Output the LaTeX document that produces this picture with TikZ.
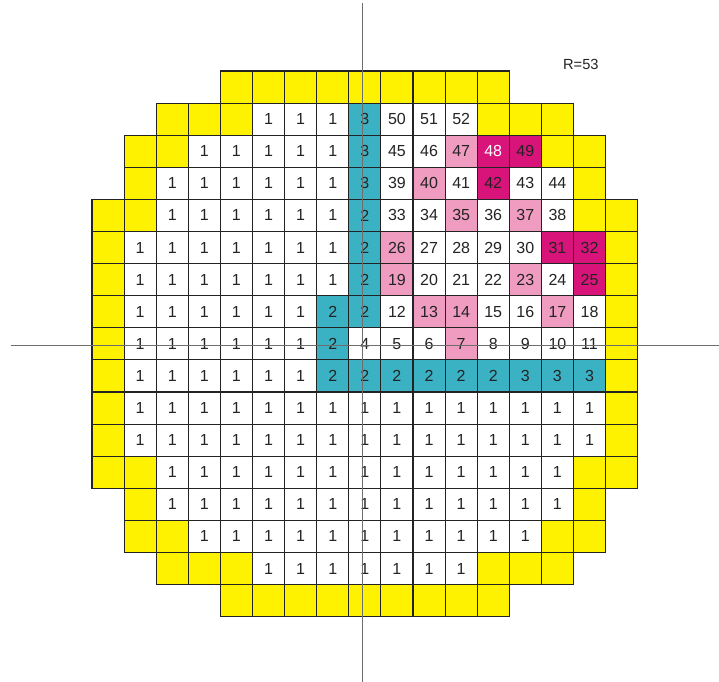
\documentclass[tikz,border=0pt]{standalone}
\usepackage{fontspec}
\setmainfont{Liberation Sans}
\definecolor{yel}{RGB}{255,242,0}
\definecolor{tealc}{RGB}{58,178,196}
\definecolor{pinkc}{RGB}{240,156,192}
\definecolor{magc}{RGB}{216,20,122}
\definecolor{gridc}{RGB}{35,35,35}
\definecolor{txtc}{RGB}{35,35,35}
\definecolor{axisc}{RGB}{110,110,110}
\newcommand\mycell[4]{\node[#3] (n#2-#1) at (#1+0.5,#2+0.5) {#4};}
\begin{document}
\begin{tikzpicture}[x=24.075pt,y=-24.075pt,
  cellbase/.style={draw=gridc, line width=0.8pt, minimum width=24.075pt, minimum height=24.075pt, inner sep=0pt, font=\fontsize{12}{12}\selectfont, text=txtc},
  ycell/.style={cellbase, fill=yel},
  wcell/.style={cellbase, fill=white},
  tcell/.style={cellbase, fill=tealc},
  pcell/.style={cellbase, fill=pinkc},
  mcell/.style={cellbase, fill=magc},
  mwcell/.style={cellbase, fill=magc, text=white},
  axis/.style={draw=axisc, line width=0.7pt}]
\useasboundingbox (-2.866,-2.2118) rectangle (19.533,19.034);
% row 0
\foreach \c in {4,...,12} {\mycell{\c}{0}{ycell}{}}
% row 1
\foreach \c in {2,3,4,12,13,14} {\mycell{\c}{1}{ycell}{}}
\foreach \c in {5,6,7} {\mycell{\c}{1}{wcell}{1}}
\mycell{8}{1}{tcell}{3}
\mycell{9}{1}{wcell}{50}
\mycell{10}{1}{wcell}{51}
\mycell{11}{1}{wcell}{52}
% row 2
\foreach \c in {1,2,14,15} {\mycell{\c}{2}{ycell}{}}
\foreach \c in {3,...,7} {\mycell{\c}{2}{wcell}{1}}
\mycell{8}{2}{tcell}{3}
\mycell{9}{2}{wcell}{45}
\mycell{10}{2}{wcell}{46}
\mycell{11}{2}{pcell}{47}
\mycell{12}{2}{mwcell}{48}
\mycell{13}{2}{mcell}{49}
% row 3
\foreach \c in {1,15} {\mycell{\c}{3}{ycell}{}}
\foreach \c in {2,...,7} {\mycell{\c}{3}{wcell}{1}}
\mycell{8}{3}{tcell}{3}
\mycell{9}{3}{wcell}{39}
\mycell{10}{3}{pcell}{40}
\mycell{11}{3}{wcell}{41}
\mycell{12}{3}{mcell}{42}
\mycell{13}{3}{wcell}{43}
\mycell{14}{3}{wcell}{44}
% row 4
\foreach \c in {0,1,15,16} {\mycell{\c}{4}{ycell}{}}
\foreach \c in {2,...,7} {\mycell{\c}{4}{wcell}{1}}
\mycell{8}{4}{tcell}{2}
\mycell{9}{4}{wcell}{33}
\mycell{10}{4}{wcell}{34}
\mycell{11}{4}{pcell}{35}
\mycell{12}{4}{wcell}{36}
\mycell{13}{4}{pcell}{37}
\mycell{14}{4}{wcell}{38}
% row 5
\foreach \c in {0,16} {\mycell{\c}{5}{ycell}{}}
\foreach \c in {1,...,7} {\mycell{\c}{5}{wcell}{1}}
\mycell{8}{5}{tcell}{2}
\mycell{9}{5}{pcell}{26}
\mycell{10}{5}{wcell}{27}
\mycell{11}{5}{wcell}{28}
\mycell{12}{5}{wcell}{29}
\mycell{13}{5}{wcell}{30}
\mycell{14}{5}{mcell}{31}
\mycell{15}{5}{mcell}{32}
% row 6
\foreach \c in {0,16} {\mycell{\c}{6}{ycell}{}}
\foreach \c in {1,...,7} {\mycell{\c}{6}{wcell}{1}}
\mycell{8}{6}{tcell}{2}
\mycell{9}{6}{pcell}{19}
\mycell{10}{6}{wcell}{20}
\mycell{11}{6}{wcell}{21}
\mycell{12}{6}{wcell}{22}
\mycell{13}{6}{pcell}{23}
\mycell{14}{6}{wcell}{24}
\mycell{15}{6}{mcell}{25}
% row 7
\foreach \c in {0,16} {\mycell{\c}{7}{ycell}{}}
\foreach \c in {1,...,6} {\mycell{\c}{7}{wcell}{1}}
\mycell{7}{7}{tcell}{2}
\mycell{8}{7}{tcell}{2}
\mycell{9}{7}{wcell}{12}
\mycell{10}{7}{pcell}{13}
\mycell{11}{7}{pcell}{14}
\mycell{12}{7}{wcell}{15}
\mycell{13}{7}{wcell}{16}
\mycell{14}{7}{pcell}{17}
\mycell{15}{7}{wcell}{18}
% row 8
\foreach \c in {0,16} {\mycell{\c}{8}{ycell}{}}
\foreach \c in {1,...,6} {\mycell{\c}{8}{wcell}{1}}
\mycell{7}{8}{tcell}{2}
\mycell{8}{8}{wcell}{4}
\mycell{9}{8}{wcell}{5}
\mycell{10}{8}{wcell}{6}
\mycell{11}{8}{pcell}{7}
\mycell{12}{8}{wcell}{8}
\mycell{13}{8}{wcell}{9}
\mycell{14}{8}{wcell}{10}
\mycell{15}{8}{wcell}{11}
% row 9
\foreach \c in {0,16} {\mycell{\c}{9}{ycell}{}}
\foreach \c in {1,...,6} {\mycell{\c}{9}{wcell}{1}}
\foreach \c in {7,...,12} {\mycell{\c}{9}{tcell}{2}}
\foreach \c in {13,14,15} {\mycell{\c}{9}{tcell}{3}}
% rows 10, 11
\foreach \r in {10,11} {
  \foreach \c in {0,16} {\mycell{\c}{\r}{ycell}{}}
  \foreach \c in {1,...,15} {\mycell{\c}{\r}{wcell}{1}}
}
% row 12
\foreach \c in {0,1,15,16} {\mycell{\c}{12}{ycell}{}}
\foreach \c in {2,...,14} {\mycell{\c}{12}{wcell}{1}}
% row 13
\foreach \c in {1,15} {\mycell{\c}{13}{ycell}{}}
\foreach \c in {2,...,14} {\mycell{\c}{13}{wcell}{1}}
% row 14
\foreach \c in {1,2,14,15} {\mycell{\c}{14}{ycell}{}}
\foreach \c in {3,...,13} {\mycell{\c}{14}{wcell}{1}}
% row 15
\foreach \c in {2,3,4,12,13,14} {\mycell{\c}{15}{ycell}{}}
\foreach \c in {5,...,11} {\mycell{\c}{15}{wcell}{1}}
% row 16
\foreach \c in {4,...,12} {\mycell{\c}{16}{ycell}{}}
% axes
\coordinate (vtop) at (8.433,-2.12);
\coordinate (vbot) at (8.433,19.034);
\coordinate (hleft) at (-2.533,8.545);
\coordinate (hright) at (19.533,8.545);
\draw[axis] (vtop) -- (vbot);
\draw[axis] (hleft) -- (hright);
% label
\node[font=\fontsize{11}{11}\selectfont, text=txtc, inner sep=0pt] (rlabel) at (15.23,-0.19) {R=53};
\end{tikzpicture}
\end{document}
